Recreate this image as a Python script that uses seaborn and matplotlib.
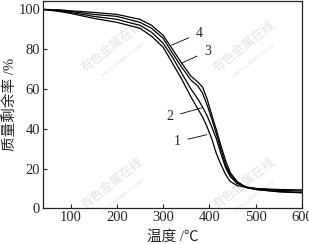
import numpy as np
import pandas as pd
import matplotlib
matplotlib.use("Agg")
import matplotlib.pyplot as plt
import seaborn as sns

# temperature (degC) and mass remaining (%)
temps = [40, 75, 100, 150, 200, 250, 275, 300, 320, 340, 360, 375, 385,
         395, 405, 415, 425, 435, 445, 460, 480, 500, 550, 600]
curve1 = [100, 99, 98, 95.5, 93.5, 90.5, 86.5, 81, 73, 65, 56, 50, 46,
          41, 35, 27.5, 22, 17, 13.5, 11.5, 10.5, 10, 9.5, 9.3]
curve2 = [100, 99.3, 98.5, 96.5, 95, 92, 88.5, 83, 76, 68, 60, 55, 51,
          46.5, 41, 35, 27.5, 20.5, 16, 12.5, 10.8, 10, 9, 8.7]
curve3 = [100, 99.6, 99, 97.5, 96.5, 93.5, 90.5, 85.5, 78, 71, 64.5, 61.5, 58,
          52, 45, 37.5, 29.5, 22, 17, 13, 10.5, 9.5, 8.3, 7.8]
curve4 = [100, 99.8, 99.3, 98.5, 97.5, 95, 92, 87, 80, 73, 66.5, 63.5, 61,
          55, 47, 39.5, 31.5, 24, 18, 13.5, 10.5, 9.5, 8.5, 8]
names = ["1", "2", "3", "4"]

xticks = [100, 200, 300, 400, 500, 600]
yticks = [0, 20, 40, 60, 80, 100]

df = pd.DataFrame({
    "T": temps * 4,
    "w": curve1 + curve2 + curve3 + curve4,
    "s": [n for n in names for _ in temps],
})

sns.set_style("ticks")
plt.rcParams["font.family"] = ["Liberation Serif", "Noto Sans CJK SC"]
plt.rcParams["xtick.direction"] = "in"
plt.rcParams["ytick.direction"] = "in"

fig = plt.figure(figsize=(3.09, 2.44), dpi=100)
ax = fig.add_axes([0.139, 0.146, 0.838, 0.848])

sns.lineplot(data=df, x="T", y="w", hue="s", palette=["black"] * 4,
             linewidth=0.9, legend=False, ax=ax)

ax.set_xlim(40, 600)
ax.set_ylim(0, 104)
ax.set_xticks(xticks)
ax.set_yticks(yticks)
ax.tick_params(labelsize=10.5, length=3, width=0.8, pad=2)
for sp in ax.spines.values():
    sp.set_visible(True)
    sp.set_linewidth(0.9)
ax.set_xlabel("温度 /℃", fontsize=10.5, labelpad=4)
ax.set_ylabel("质量剩余率 /%", fontsize=10.5, labelpad=1)

# curve labels with leader lines
lbl = [("4", (318, 82), (378, 88)),
       ("3", (340, 73), (396, 79)),
       ("2", (383, 50.5), (314, 46)),
       ("1", (394, 37), (330, 33.5))]
for t, xy, xyt in lbl:
    ax.annotate(t, xy=xy, xytext=xyt, fontsize=10, ha="center", va="center",
                arrowprops=dict(arrowstyle="-", lw=0.6, color="black",
                                shrinkA=3, shrinkB=0))

# faint watermark
for wx, wy in [(0.27, 0.78), (0.78, 0.78), (0.27, 0.12), (0.78, 0.12)]:
    ax.text(wx, wy, "有色金属在线", transform=ax.transAxes, rotation=38,
            fontsize=9, color="#e2e2e2", ha="center", va="center", zorder=0)
    ax.text(wx + 0.04, wy - 0.06, "www.cnmmol.com", transform=ax.transAxes,
            rotation=38, fontsize=5, color="#e2e2e2", ha="center",
            va="center", zorder=0)

fig.savefig("out.png", dpi=100)
